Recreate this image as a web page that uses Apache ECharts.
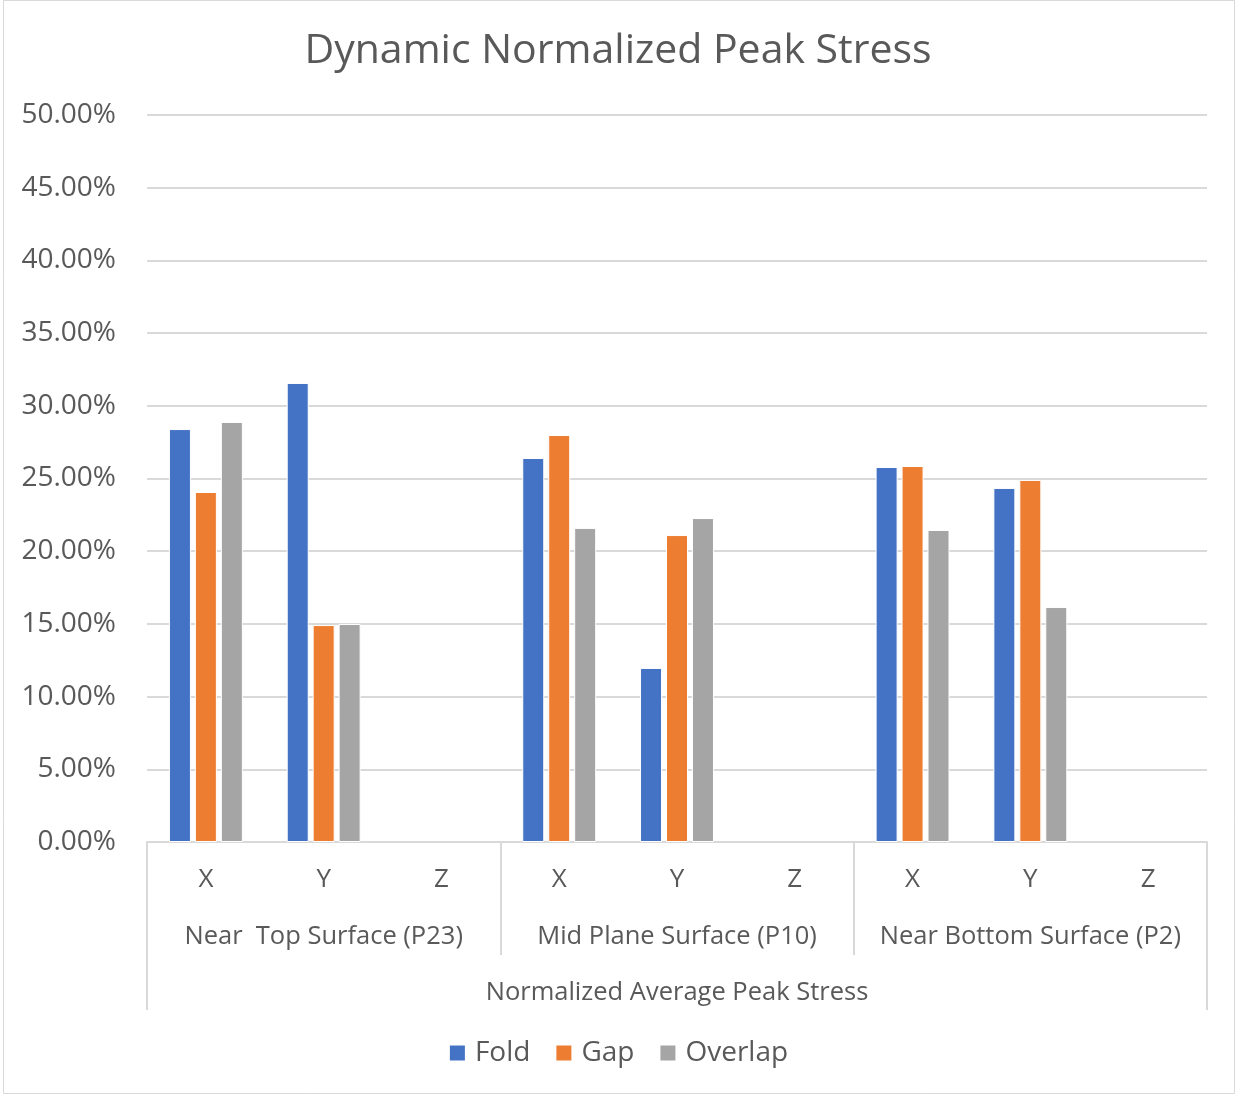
<!DOCTYPE html>
<html>
<head>
<meta charset="utf-8">
<script src="https://cdn.jsdelivr.net/npm/echarts@6/dist/echarts.min.js"></script>
<style>
  html, body { margin: 0; padding: 0; background: #fff; }
  #chart { width: 1236px; height: 1094px; }
</style>
</head>
<body>
<div id="chart"></div>
<script>
const axes = ['X', 'Y', 'Z', 'X', 'Y', 'Z', 'X', 'Y', 'Z']
const groups = ['Near  Top Surface (P23)', 'Mid Plane Surface (P10)', 'Near Bottom Surface (P2)']
const fold = [0.284, 0.3157, null, 0.2641, 0.1197, null, 0.2579, 0.2435, null]
const gap = [0.2407, 0.1492, null, 0.2799, 0.2111, null, 0.2586, 0.249, null]
const overlap = [0.2889, 0.1499, null, 0.216, 0.2228, null, 0.2146, 0.1616, null]

const font = 'Open Sans'
const textColor = '#595959'
const lineColor = '#d9d9d9'

const chart = echarts.init(document.getElementById('chart'))

const barStyle = (color) => ({ color: color, borderColor: '#fff', borderWidth: 1 })

const option = {
  textStyle: { fontFamily: font, color: textColor },
  graphic: [{
    type: 'rect',
    shape: { x: 3.5, y: 0.5, width: 1231, height: 1093 },
    style: { fill: 'none', stroke: lineColor, lineWidth: 1 },
    silent: true
  }],
  title: {
    text: 'Dynamic Normalized Peak Stress',
    left: 'center',
    top: 26,
    textStyle: { fontFamily: font, fontSize: 41, fontWeight: 'normal', color: textColor }
  },
  legend: {
    bottom: 22,
    left: 'center',
    itemWidth: 17,
    itemHeight: 17,
    itemGap: 24,
    icon: 'rect',
    textStyle: { fontFamily: font, fontSize: 28, color: textColor, padding: [0, 0, 0, 4] }
  },
  grid: { left: 147, right: 29, top: 115, bottom: 252 },
  xAxis: [
    {
      type: 'category',
      data: axes,
      axisLine: { lineStyle: { color: lineColor, width: 2 } },
      axisTick: { show: false },
      axisLabel: { margin: 25, fontSize: 26, color: textColor, fontFamily: font }
    },
    {
      type: 'category',
      data: groups,
      position: 'bottom',
      axisLine: { show: false },
      axisTick: { show: true, length: 113, interval: 0, lineStyle: { color: lineColor, width: 2 } },
      axisLabel: { margin: 82, fontSize: 25.5, color: textColor, fontFamily: font, interval: 0 }
    },
    {
      type: 'category',
      data: [''],
      position: 'bottom',
      axisLine: { show: false },
      axisTick: { show: true, length: 168, lineStyle: { color: lineColor, width: 2 } },
      axisLabel: { show: false },
      name: 'Normalized Average Peak Stress',
      nameLocation: 'middle',
      nameGap: 138,
      nameTextStyle: { fontSize: 25.5, color: textColor, fontFamily: font }
    }
  ],
  yAxis: {
    type: 'value',
    min: 0,
    max: 0.5,
    interval: 0.05,
    axisLine: { show: false },
    axisTick: { show: false },
    splitLine: { lineStyle: { color: lineColor, width: 2 } },
    axisLabel: {
      margin: 31,
      fontSize: 28,
      color: textColor,
      fontFamily: font,
      formatter: v => (v * 100).toFixed(2) + '%'
    }
  },
  series: [
    { name: 'Fold', type: 'bar', data: fold, barWidth: 22, barGap: '18%', itemStyle: barStyle('#4472c4') },
    { name: 'Gap', type: 'bar', data: gap, barWidth: 22, barGap: '18%', itemStyle: barStyle('#ed7d31') },
    { name: 'Overlap', type: 'bar', data: overlap, barWidth: 22, barGap: '18%', itemStyle: barStyle('#a5a5a5') }
  ]
}
chart.setOption(option)
</script>
</body>
</html>
